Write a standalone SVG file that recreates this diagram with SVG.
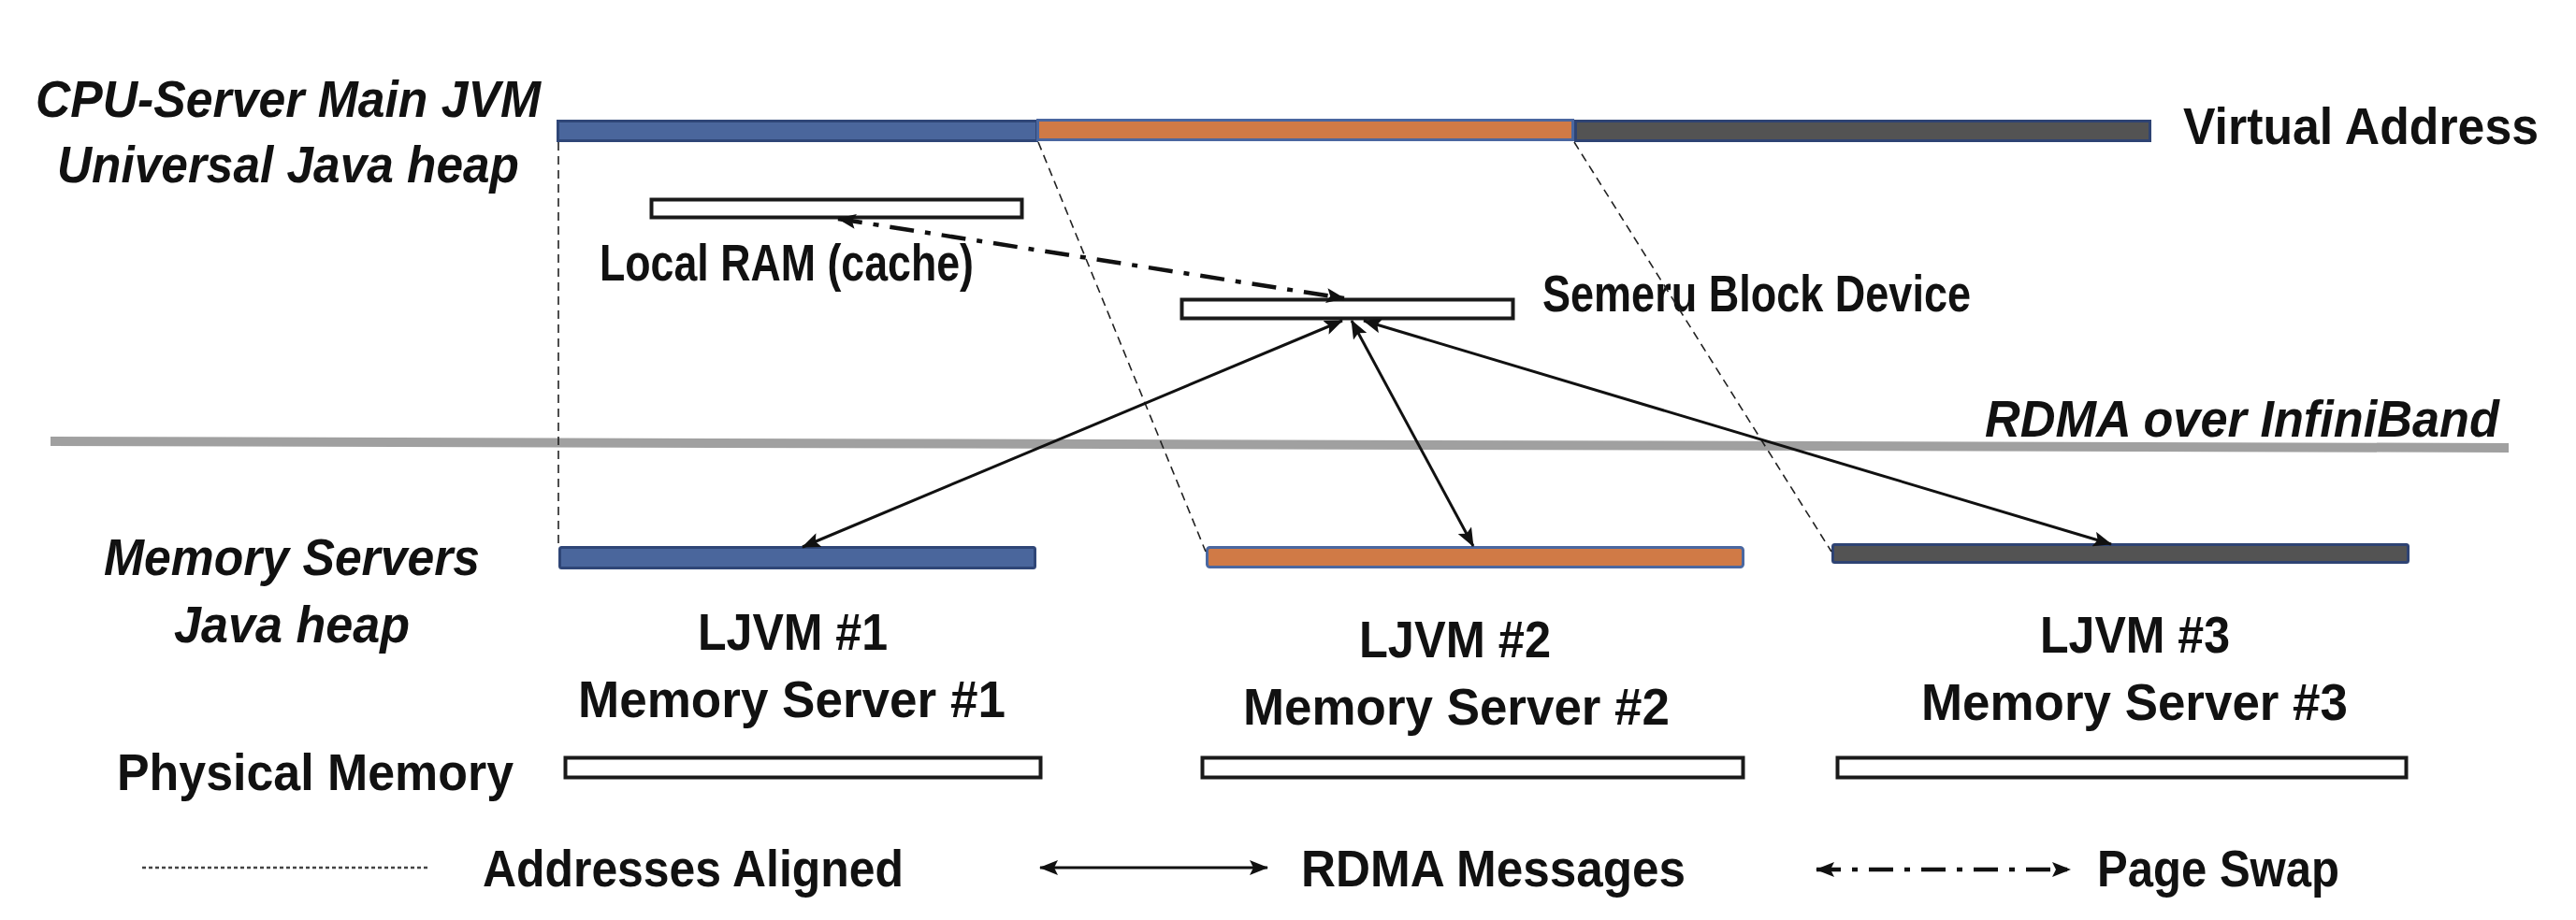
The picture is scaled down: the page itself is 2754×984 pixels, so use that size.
<svg xmlns="http://www.w3.org/2000/svg" width="2754" height="984" viewBox="0 0 2754 984">
<style>
  .t { font-family: "Liberation Sans", Arial, sans-serif; font-weight: bold; font-size: 55px; fill: #111; }
  .i { font-style: italic; }
  .blue { fill: #4A669C; stroke: #2F4677; stroke-width: 3; }
  .orange { fill: #D07A46; stroke: #4A67A0; stroke-width: 3; }
  .gray { fill: #535353; stroke: #2E4373; stroke-width: 3; }
  .box { fill: #fff; stroke: #1a1a1a; stroke-width: 4; }
  .align { fill: none; stroke: #222; stroke-width: 1.6; stroke-dasharray: 9 6; }
  .rdma { fill: none; stroke: #111; stroke-width: 3; marker-start: url(#ah); marker-end: url(#ah); }
  .swap { fill: none; stroke: #111; stroke-width: 4.5; stroke-dasharray: 26 12 6 12; marker-start: url(#ah); marker-end: url(#ah); }
</style>
<defs>
  <marker id="ah" markerUnits="userSpaceOnUse" markerWidth="20" markerHeight="16" refX="19" refY="8" orient="auto-start-reverse">
    <path d="M0,0 L20,8 L0,16 L4,8 z" fill="#111"/>
  </marker>
</defs>
<rect width="2754" height="984" fill="#fff"/>

<g id="labels-left">
  <text class="t i" x="38" y="125" textLength="540" lengthAdjust="spacingAndGlyphs">CPU-Server Main JVM</text>
  <text class="t i" x="61" y="195" textLength="494" lengthAdjust="spacingAndGlyphs">Universal Java heap</text>
  <text class="t i" x="111" y="615" textLength="402" lengthAdjust="spacingAndGlyphs">Memory Servers</text>
  <text class="t i" x="186" y="687" textLength="252" lengthAdjust="spacingAndGlyphs">Java heap</text>
  <text class="t" x="125" y="845" textLength="424" lengthAdjust="spacingAndGlyphs">Physical Memory</text>
</g>

<g id="network">
  <line x1="54" y1="472" x2="2682" y2="479" stroke="#A0A0A0" stroke-width="10"/>
  <text class="t i" x="2122" y="467" textLength="550" lengthAdjust="spacingAndGlyphs">RDMA over InfiniBand</text>
</g>

<g id="virtual-address">
  <rect class="blue" x="596.5" y="129.5" width="512" height="21"/>
  <rect class="orange" x="1109.5" y="128.5" width="572" height="21"/>
  <rect class="gray" x="1684.5" y="129.5" width="614" height="21"/>
  <text class="t" x="2334" y="154" textLength="380" lengthAdjust="spacingAndGlyphs">Virtual Address</text>
</g>

<g id="local-ram">
  <rect class="box" x="696.5" y="213.5" width="396" height="19"/>
  <text class="t" x="641" y="300" font-size="48" textLength="400" lengthAdjust="spacingAndGlyphs">Local RAM (cache)</text>
</g>

<g id="semeru-block-device">
  <rect class="box" x="1263.5" y="320.5" width="354" height="20"/>
  <text class="t" x="1649" y="333" font-size="50" textLength="458" lengthAdjust="spacingAndGlyphs">Semeru Block Device</text>
</g>

<g id="memory-server-1">
  <rect class="blue" x="598.5" y="585.5" width="508" height="22" rx="2"/>
  <text class="t" x="746" y="695" textLength="203" lengthAdjust="spacingAndGlyphs">LJVM #1</text>
  <text class="t" x="618" y="767" textLength="457" lengthAdjust="spacingAndGlyphs">Memory Server #1</text>
  <rect class="box" x="604.5" y="810.5" width="508" height="21"/>
</g>

<g id="memory-server-2">
  <rect class="orange" x="1290.5" y="585.5" width="573" height="21" rx="3"/>
  <text class="t" x="1453" y="703" textLength="205" lengthAdjust="spacingAndGlyphs">LJVM #2</text>
  <text class="t" x="1329" y="775" textLength="456" lengthAdjust="spacingAndGlyphs">Memory Server #2</text>
  <rect class="box" x="1285.5" y="810.5" width="578" height="21"/>
</g>

<g id="memory-server-3">
  <rect class="gray" x="1959.5" y="582.5" width="615" height="19" rx="2"/>
  <text class="t" x="2181" y="698" textLength="203" lengthAdjust="spacingAndGlyphs">LJVM #3</text>
  <text class="t" x="2054" y="770" textLength="456" lengthAdjust="spacingAndGlyphs">Memory Server #3</text>
  <rect class="box" x="1964.5" y="810.5" width="608" height="21"/>
</g>

<g id="connectors">
  <line class="align" x1="597" y1="152" x2="597" y2="584"/>
  <line class="align" x1="1110" y1="152" x2="1289" y2="590"/>
  <line class="align" x1="1683" y1="152" x2="1958" y2="590"/>
  <line class="swap" x1="896" y1="234" x2="1437" y2="319"/>
  <line class="rdma" x1="1435" y1="343" x2="858" y2="585"/>
  <line class="rdma" x1="1445" y1="343" x2="1575" y2="584"/>
  <line class="rdma" x1="1458" y1="343" x2="2257" y2="582"/>
</g>

<g id="legend">
  <line x1="152" y1="928" x2="460" y2="928" stroke="#444" stroke-width="2.5" stroke-dasharray="4 3"/>
  <text class="t" x="516" y="948" textLength="450" lengthAdjust="spacingAndGlyphs">Addresses Aligned</text>
  <line class="rdma" x1="1112" y1="928" x2="1355" y2="928" stroke-width="4"/>
  <text class="t" x="1391" y="948" textLength="411" lengthAdjust="spacingAndGlyphs">RDMA Messages</text>
  <line class="swap" x1="1942" y1="930" x2="2213" y2="930" stroke-width="3.5" stroke-dasharray="14 8 4 8"/>
  <text class="t" x="2242" y="948" textLength="259" lengthAdjust="spacingAndGlyphs">Page Swap</text>
</g>
</svg>
